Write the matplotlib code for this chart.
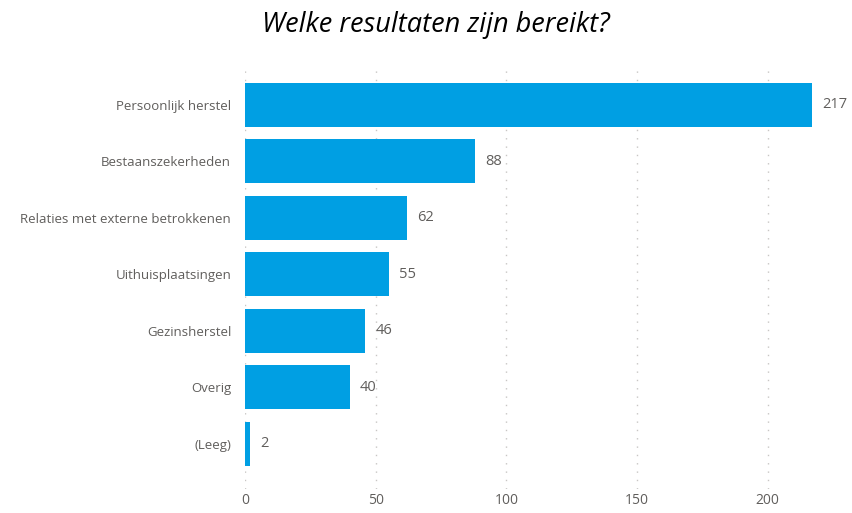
import matplotlib.pyplot as plt
import numpy as np

categories = ['Persoonlijk herstel', 'Bestaanszekerheden', 'Relaties met externe betrokkenen',
              'Uithuisplaatsingen', 'Gezinsherstel', 'Overig', '(Leeg)']
values = [217, 88, 62, 55, 46, 40, 2]
xticks = [0, 50, 100, 150, 200]

plt.rcParams['font.family'] = ['Open Sans', 'DejaVu Sans']

fig = plt.figure(figsize=(8.52, 5.13), dpi=100)
ax = fig.add_axes([0.2876, 0.047, 0.690, 0.8225])

y = np.arange(len(categories))
ax.barh(y, values, height=0.78, color='#009FE3', zorder=3)
for yi, v in zip(y, values):
    ax.text(v + 4, yi, str(v), va='center', ha='left', fontsize=10.5, color='#605E5C')

ax.set_yticks(y)
ax.set_yticklabels(categories, fontsize=9.5, color='#605E5C')
ax.set_xticks(xticks)
ax.set_xticklabels([str(t) for t in xticks], fontsize=10, color='#605E5C')
ax.set_xlim(0, 225)
ax.set_ylim(6.8, -0.67)
ax.tick_params(length=0, axis='y', pad=10)
ax.tick_params(length=0, axis='x', pad=3)
ax.grid(axis='x', color='#C8C6C4', linestyle=(0, (1, 5)), linewidth=1, zorder=0)
for s in ax.spines.values():
    s.set_visible(False)

fig.text(0.512, 0.951, 'Welke resultaten zijn bereikt?', ha='center', va='center',
         fontsize=19.5, style='italic', color='#000000')

fig.savefig('out.png', dpi=100)
